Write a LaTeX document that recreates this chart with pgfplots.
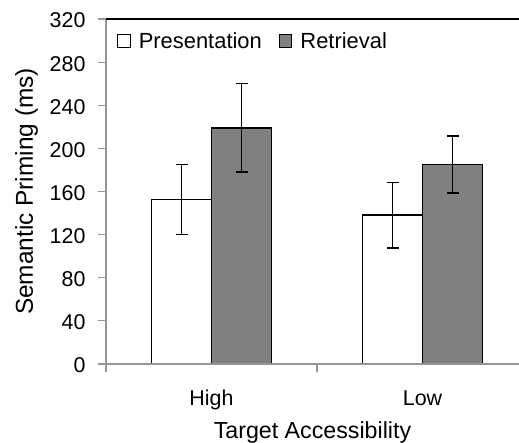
\documentclass[border=0pt]{standalone}
\usepackage{pgfplots}
\pgfplotsset{compat=1.18}
\usepackage{fontspec}
\setmainfont{Liberation Sans}
\definecolor{barg}{RGB}{128,128,128}
\definecolor{axg}{RGB}{150,150,150}
\newcommand\tickfont{\fontsize{21.5}{25}\selectfont}
\begin{document}
\begin{tikzpicture}
\begin{axis}[
 at={(0,0)}, anchor=south west,
 scale only axis, width=413bp, height=345bp,
 xmin=0, xmax=1.957, ymin=0, ymax=320,
 clip=false, axis on top,
 ybar=0pt, bar width=60bp,
 axis x line*=bottom, axis y line*=left,
 axis line style={axg, line width=1.2bp},
 every tick/.style={axg, line width=1.2bp},
 tick align=outside,
 major tick length=8bp,
 ytick={0,40,80,120,160,200,240,280,320},
 yticklabels={0,40,80,120,160,200,240,280,320},
 xtick={0,1}, xticklabels={},
 extra x ticks={0.5,1.5}, extra x tick labels={High,Low},
 extra x tick style={major tick length=0pt, xticklabel style={font=\tickfont, anchor=base, yshift=-41bp}},
 every tick label/.append style={font=\tickfont, black},
 yticklabel style={font=\tickfont, anchor=east, xshift=-9bp, yshift=-1.5bp},
 xticklabel style={font=\tickfont},
 xlabel={Target Accessibility},
 xlabel style={at={(axis description cs:0.5,0)}, anchor=base, yshift=-74bp, font=\fontsize{23.3}{27}\selectfont},
 ylabel={Semantic Priming (ms)},
 ylabel style={at={([xshift=-73bp]axis description cs:0,0.5)}, anchor=base, font=\fontsize{24.5}{29}\selectfont},
 sq legend/.style={legend image code/.code={\draw[##1, line width=1bp, draw=black] (0bp,-6.3bp) rectangle (12.6bp,6.3bp);}},
 legend columns=2,
 legend style={at={(0,1)}, anchor=west, xshift=11bp, yshift=-22bp, draw=none, fill=none, font=\fontsize{22}{26}\selectfont, inner sep=0pt, nodes={inner sep=0pt},
   /tikz/every odd column/.append style={column sep=8bp},
   /tikz/every even column/.append style={column sep=17bp}},
 after end axis/.code={\draw[black, line width=1.5bp] (rel axis cs:0,1) -- (rel axis cs:1,1);},
]
\addplot[fill=white, draw=black, line width=1.5bp, sq legend,
  error bars/.cd, y dir=both, y explicit,
  error bar style={line width=1.5bp, black},
  error mark options={rotate=90, mark size=6bp, line width=1.5bp, black}]
  coordinates {(0.5,152.5) +- (0,32.5) (1.5,138) +- (0,30.5)};
\addlegendentry{Presentation}
\addplot[fill=barg, draw=black, line width=1.5bp, sq legend,
  error bars/.cd, y dir=both, y explicit,
  error bar style={line width=1.5bp, black},
  error mark options={rotate=90, mark size=6bp, line width=1.5bp, black}]
  coordinates {(0.5,219) +- (0,41) (1.5,185) +- (0,26.5)};
\addlegendentry{Retrieval}
\end{axis}
\pgfresetboundingbox
\path (-106bp,-79bp) rectangle (413bp,364bp);
\end{tikzpicture}
\end{document}
